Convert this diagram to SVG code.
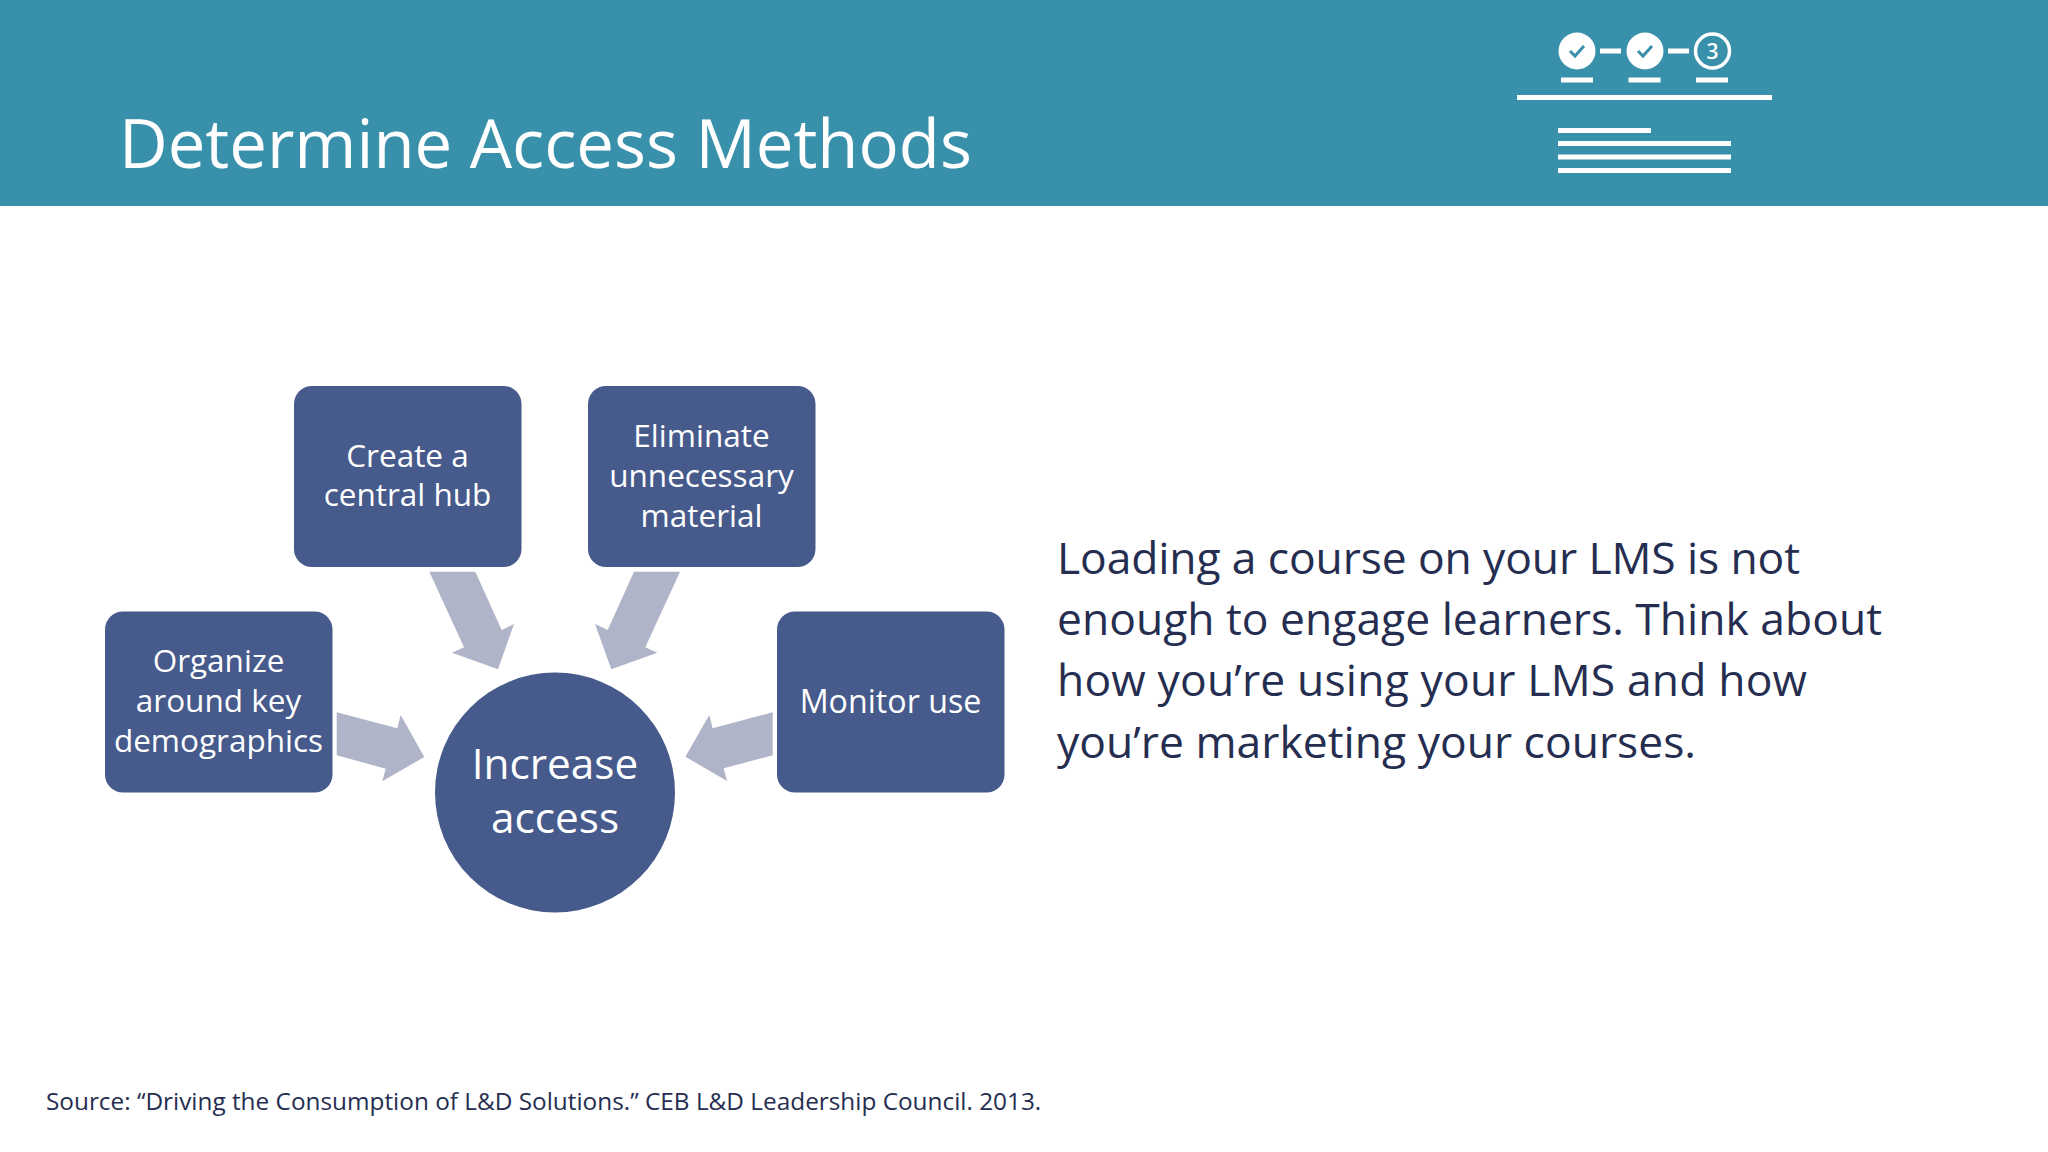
<svg xmlns="http://www.w3.org/2000/svg" width="2048" height="1152" viewBox="0 0 2048 1152">
<style>
text{font-family:"Open Sans","Noto Sans",sans-serif}
.w{fill:#fff;text-anchor:middle;font-size:31.500px}
.b{fill:#465a8c}
.a{fill:#b0b4c8}
.d{fill:#252e50;font-size:44.400px}
.i{fill:#fff}
</style>
<rect width="2048" height="206" fill="#3890aa"/>
<text x="119" y="168" font-size="67.100" fill="#fff">Determine Access Methods</text>
<g id="progress-icon">
<circle class="i" cx="1577" cy="51" r="18.500"/><circle class="i" cx="1645" cy="51" r="18.500"/>
<circle cx="1712.500" cy="51" r="17" fill="none" stroke="#fff" stroke-width="3.500"/>
<path d="M1570 51l5 5 9-10M1638 51l5 5 9-10" fill="none" stroke="#3890aa" stroke-width="3"/>
<text x="1712.500" y="59" font-size="21" font-weight="600" fill="#fff" text-anchor="middle">3</text>
<path class="i" d="M1600 48.500h21v5h-21zM1668 48.500h21v5h-21zM1561 77.500h32v5h-32zM1628.500 77.500h32v5h-32zM1696 77.500h32v5h-32zM1517 95h255v5h-255zM1558 128h93v5h-93zM1558 141h173v5h-173zM1558 154.500h173v5h-173zM1558 168h173v5h-173z"/>
</g>
<g id="connectors">
<polygon class="a" points="429.300,571.700 475.300,571.700 501.700,630 514,624 498,669.300 452,652.700 464,647.300"/>
<polygon class="a" points="680,571.700 634,571.700 607.700,630 595,624 611.300,669.300 657.300,652.700 645.300,647.300"/>
<polygon class="a" points="336.700,712.300 397.300,728.300 400.700,715 424.300,757 382.300,781.300 385.700,768.700 336.700,755.300"/>
<polygon class="a" points="772.700,712.300 712.700,728.300 709.300,715 685.300,756.700 727,781 723.700,768.300 772.700,755.300"/>
</g>
<g id="node-hub"><rect class="b" x="294" y="386" width="227.500" height="181" rx="18"/><text class="w" x="407.500" y="467">Create a</text><text class="w" x="407.500" y="506">central hub</text></g>
<g id="node-eliminate"><rect class="b" x="588" y="386" width="227.500" height="181" rx="18"/><text class="w" x="701.500" y="447">Eliminate</text><text class="w" x="701.500" y="487">unnecessary</text><text class="w" x="701.500" y="527">material</text></g>
<g id="node-organize"><rect class="b" x="105" y="611.500" width="227.500" height="181" rx="18"/><text class="w" x="218.500" y="672">Organize</text><text class="w" x="218.500" y="711.500">around key</text><text class="w" x="218.500" y="752">demographics</text></g>
<g id="node-monitor"><rect class="b" x="777" y="611.500" width="227.500" height="181" rx="18"/><text class="w" x="890.500" y="712.500" style="font-size:32.200px">Monitor use</text></g>
<g id="node-center"><circle class="b" cx="555" cy="792.500" r="120"/><text class="w" x="555" y="779" style="font-size:42.300px">Increase</text><text class="w" x="555" y="833" style="font-size:42.300px">access</text></g>
<g id="body-text">
<text class="d" x="1057" y="574" textLength="743">Loading a course on your LMS is not</text>
<text class="d" x="1057" y="635" textLength="825">enough to engage learners. Think about</text>
<text class="d" x="1057" y="696" textLength="750">how you’re using your LMS and how</text>
<text class="d" x="1057" y="758" textLength="639">you’re marketing your courses.</text>
</g>
<text x="46" y="1110" font-size="24.350" fill="#252e50">Source: “Driving the Consumption of L&amp;D Solutions.” CEB L&amp;D Leadership Council. 2013.</text>
</svg>
